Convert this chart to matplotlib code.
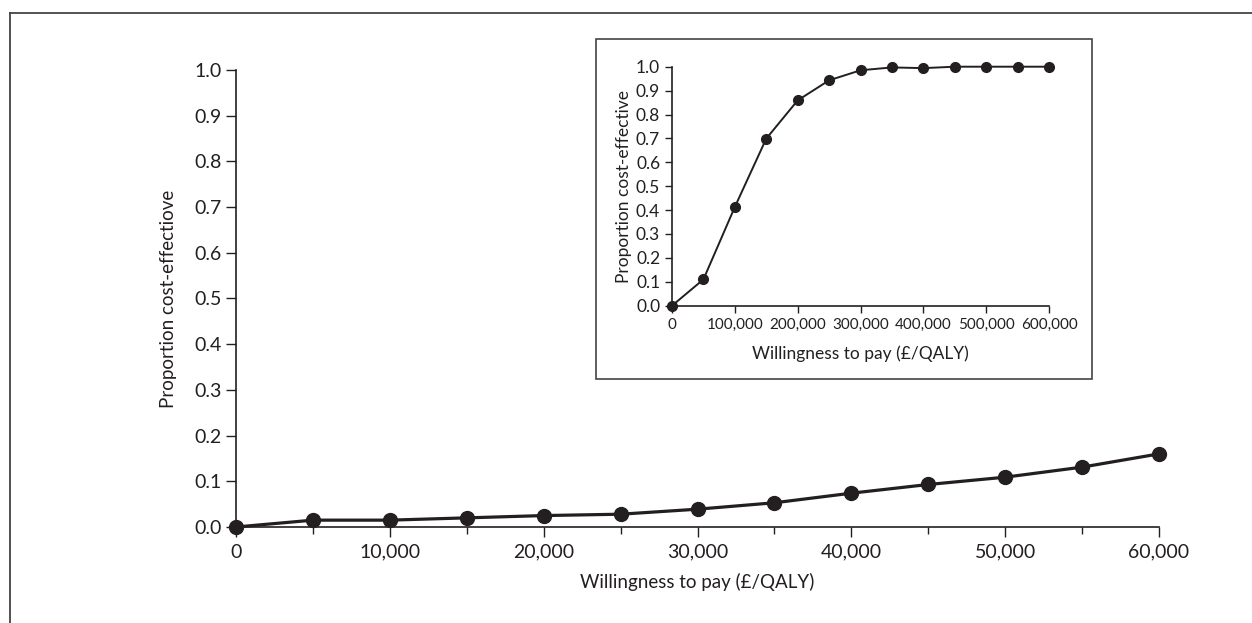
import numpy as np
import matplotlib.pyplot as plt
from matplotlib.lines import Line2D
from matplotlib.patches import Rectangle
from matplotlib.ticker import FuncFormatter, MultipleLocator

plt.rcParams['font.family'] = ['Lato', 'DejaVu Sans']

INK = '#231f20'

# main curve: willingness to pay up to 60,000
wtp = [0, 5000, 10000, 15000, 20000, 25000, 30000,
       35000, 40000, 45000, 50000, 55000, 60000]
prop = [0.0, 0.015, 0.015, 0.02, 0.025, 0.028, 0.039,
        0.053, 0.074, 0.093, 0.109, 0.131, 0.16]

# inset curve: willingness to pay up to 600,000
wtp_wide = [0, 50000, 100000, 150000, 200000, 250000, 300000,
            350000, 400000, 450000, 500000, 550000, 600000]
prop_wide = [0.0, 0.11, 0.413, 0.699, 0.859, 0.943, 0.985,
             0.997, 0.994, 1.0, 1.0, 1.0, 1.0]

thousands = FuncFormatter(lambda v, p: f'{int(v):,}')
W, H = 1252, 623

fig = plt.figure(figsize=(W / 100, H / 100), dpi=100)

# frame lines along top and left
fig.add_artist(Line2D([10 / W, 10 / W], [0, 1 - 13 / H], color='#444444', lw=1.3))
fig.add_artist(Line2D([10 / W, 1], [1 - 13 / H, 1 - 13 / H], color='#444444', lw=1.3))


def style_axes(ax, fs, ticklen):
    for s in ['top', 'right']:
        ax.spines[s].set_visible(False)
    for s in ['left', 'bottom']:
        ax.spines[s].set_color(INK)
        ax.spines[s].set_linewidth(1.2)
    ax.tick_params(axis='both', colors=INK, labelsize=fs, length=ticklen, width=1.0,
                   labelcolor=INK)
    ax.set_ylim(0, 1.0)
    ax.yaxis.set_major_locator(MultipleLocator(0.1))
    ax.yaxis.set_major_formatter(FuncFormatter(lambda v, p: f'{v:.1f}'))
    ax.xaxis.set_major_formatter(thousands)


ax = fig.add_axes([236 / W, 96 / H, (1159 - 236) / W, (527 - 70) / H])
style_axes(ax, 14, 7)
ax.plot(wtp, prop, color=INK, lw=2.3, marker='o', ms=10, clip_on=False, zorder=5)
ax.set_xlim(0, 60000)
ax.xaxis.set_major_locator(MultipleLocator(10000))
ax.xaxis.set_minor_locator(MultipleLocator(5000))
ax.tick_params(axis='x', which='minor', length=5, width=1.0, colors=INK)
ax.tick_params(axis='x', pad=5)
ax.set_xlabel('Willingness to pay (£/QALY)', fontsize=13.5, color=INK, labelpad=9)
ax.set_ylabel('Proportion cost-effectiove', fontsize=13.5, color=INK, labelpad=12)

# boxed inset
fig.add_artist(Rectangle((596 / W, 1 - 379 / H), (1092 - 596) / W, 340 / H,
                         transform=fig.transFigure, fill=False,
                         edgecolor='#444444', lw=1.2))
ins = fig.add_axes([672 / W, 1 - 305.7 / H, (1049 - 672) / W, (305.7 - 66.7) / H])
style_axes(ins, 12.5, 5)
ins.tick_params(axis='x', labelsize=11)
ins.plot(wtp_wide, prop_wide, color=INK, lw=1.4, marker='o', ms=7, clip_on=False, zorder=5)
ins.set_xlim(0, 600000)
ins.xaxis.set_major_locator(MultipleLocator(100000))
ins.set_xlabel('Willingness to pay (£/QALY)', fontsize=12.5, color=INK, labelpad=10)
ins.set_ylabel('Proportion cost-effective', fontsize=12.5, color=INK, labelpad=3)

fig.savefig('out.png', dpi=100)
